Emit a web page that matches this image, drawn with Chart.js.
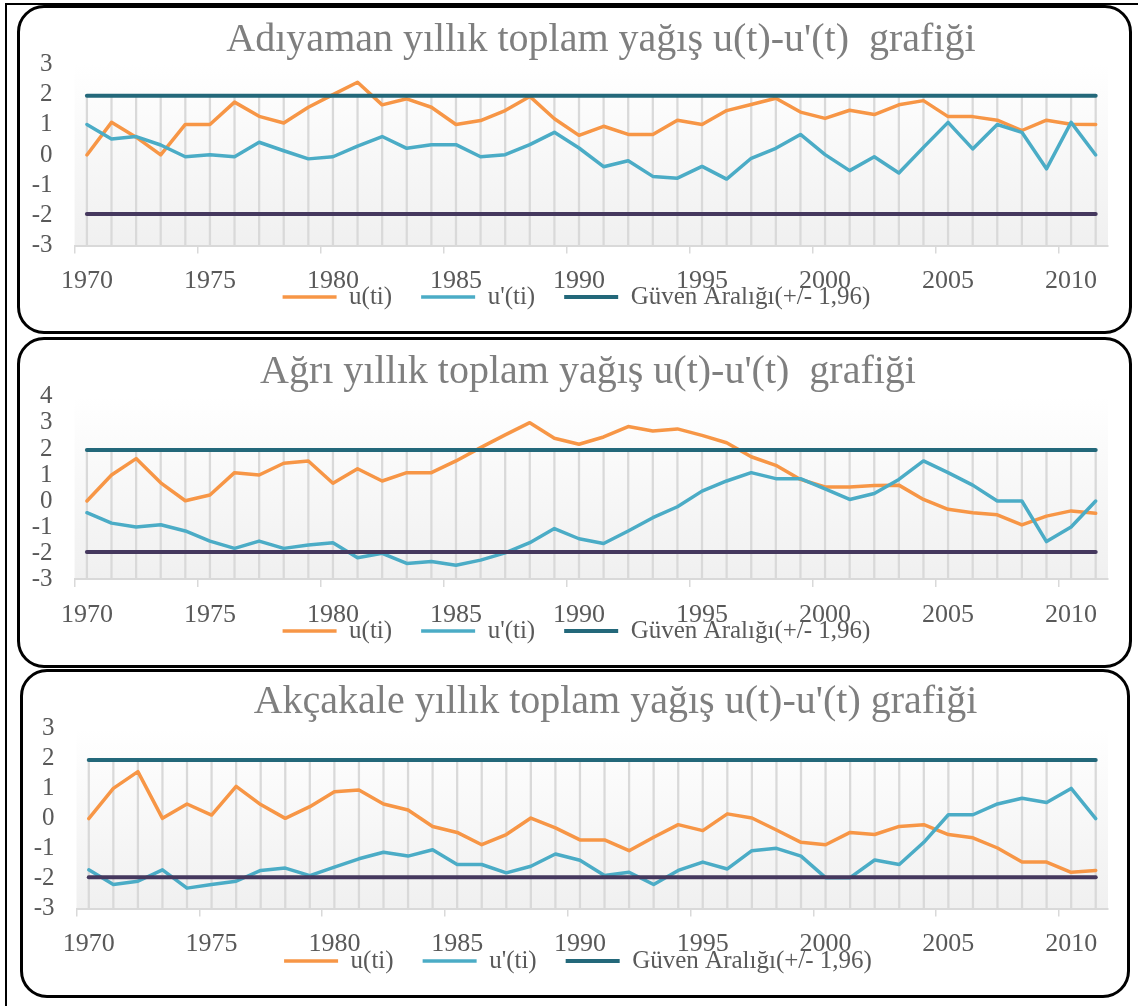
<!DOCTYPE html>
<html>
<head>
<meta charset="utf-8">
<script src="https://cdn.jsdelivr.net/npm/chart.js@4.4.1/dist/chart.umd.min.js"></script>
<style>
  html, body { margin: 0; padding: 0; background: #ffffff; }
  body { width: 1138px; height: 1006px; position: relative; overflow: hidden; }
  .frame { position: absolute; left: 5px; top: 3px; width: 1300px; height: 1200px;
           border-left: 2px solid #000; border-top: 2px solid #000; }
  .panel { position: absolute; box-sizing: border-box; border: 3px solid #000;
           border-radius: 27px; background: #ffffff; }
  canvas { position: absolute; }
</style>
</head>
<body>
<div class="frame"></div>
<div class="panel" style="left:17px;top:5px;width:1115px;height:329px"></div>
<div class="panel" style="left:17px;top:337px;width:1115px;height:331px"></div>
<div class="panel" style="left:20px;top:669px;width:1110px;height:329px"></div>
<canvas id="c1" width="1114" height="326" style="left:18px;top:7px"></canvas>
<canvas id="c2" width="1114" height="328" style="left:18px;top:339px"></canvas>
<canvas id="c3" width="1107" height="326" style="left:21px;top:671px"></canvas>
<script>
// ---------- data ----------
const years = ['1970','1971','1972','1973','1974','1975','1976','1977','1978','1979',
               '1980','1981','1982','1983','1984','1985','1986','1987','1988','1989',
               '1990','1991','1992','1993','1994','1995','1996','1997','1998','1999',
               '2000','2001','2002','2003','2004','2005','2006','2007','2008','2009',
               '2010','2011'];

const adiyamanU  = [0.00, 1.08, 0.59, 0.00, 1.01, 1.01, 1.75, 1.28, 1.06, 1.58,
                    2.00, 2.41, 1.66, 1.86, 1.58, 1.01, 1.14, 1.47, 1.94, 1.20,
                    0.65, 0.95, 0.68, 0.68, 1.15, 1.01, 1.47, 1.67, 1.88, 1.42,
                    1.21, 1.48, 1.34, 1.66, 1.80, 1.27, 1.27, 1.15, 0.81, 1.15,
                    1.02, 1.01];
const adiyamanU2 = [1.01, 0.53, 0.61, 0.33, -0.06, 0.01, -0.06, 0.42, 0.14, -0.13,
                    -0.06, 0.29, 0.61, 0.22, 0.34, 0.34, -0.06, 0.01, 0.34, 0.75,
                    0.23, -0.39, -0.19, -0.71, -0.77, -0.38, -0.80, -0.11, 0.22, 0.68,
                    0.01, -0.52, -0.06, -0.60, 0.25, 1.08, 0.20, 1.01, 0.75, -0.46,
                    1.08, 0.00];

const agriU  = [0.00, 1.00, 1.63, 0.70, 0.01, 0.23, 1.09, 1.00, 1.45, 1.54,
                0.68, 1.24, 0.77, 1.09, 1.09, 1.54, 2.05, 2.54, 3.01, 2.41,
                2.18, 2.46, 2.86, 2.69, 2.77, 2.52, 2.24, 1.70, 1.37, 0.83,
                0.54, 0.54, 0.60, 0.61, 0.06, -0.32, -0.45, -0.53, -0.92, -0.58,
                -0.38, -0.47];
const agriU2 = [-0.45, -0.85, -1.00, -0.91, -1.15, -1.54, -1.82, -1.54, -1.82, -1.69,
                -1.60, -2.18, -2.01, -2.40, -2.32, -2.47, -2.27, -1.99, -1.60, -1.06,
                -1.45, -1.63, -1.15, -0.64, -0.22, 0.38, 0.77, 1.09, 0.86, 0.86,
                0.47, 0.06, 0.29, 0.83, 1.54, 1.09, 0.61, 0.00, 0.00, -1.56,
                -1.00, 0.00];

const akcakaleU  = [0.00, 1.01, 1.57, 0.01, 0.49, 0.12, 1.08, 0.47, 0.01, 0.40,
                    0.90, 0.96, 0.49, 0.29, -0.26, -0.46, -0.87, -0.53, 0.02, -0.31,
                    -0.71, -0.71, -1.07, -0.62, -0.20, -0.40, 0.16, 0.02, -0.38, -0.79,
                    -0.87, -0.46, -0.53, -0.26, -0.20, -0.53, -0.64, -0.98, -1.45, -1.45,
                    -1.79, -1.73];
const akcakaleU2 = [-1.71, -2.20, -2.09, -1.71, -2.32, -2.20, -2.09, -1.73, -1.65, -1.90,
                    -1.62, -1.34, -1.12, -1.25, -1.04, -1.53, -1.53, -1.81, -1.59, -1.18,
                    -1.39, -1.90, -1.79, -2.20, -1.73, -1.45, -1.68, -1.07, -0.99, -1.25,
                    -1.97, -1.97, -1.38, -1.53, -0.79, 0.13, 0.13, 0.49, 0.68, 0.54,
                    1.01, 0.00];

const upperLimit = 1.96;
const lowerLimit = -1.96;

const seriesLabels = ['u(ti)', "u'(ti)", 'Güven Aralığı(+/- 1,96)'];
const chartTitles = [
  "Adıyaman yıllık toplam yağış u(t)-u'(t)  grafiği",
  "Ağrı yıllık toplam yağış u(t)-u'(t)  grafiği",
  "Akçakale yıllık toplam yağış u(t)-u'(t) grafiği"
];
const yRanges = [[-3, 3], [-3, 4], [-3, 3]];

// ---------- styling ----------
const ORANGE = '#F79646', BLUE = '#4BACC6', TEAL = '#23687A', PURPLE = '#45385E';
const GRID = '#d9d9d9', TEXT = '#595959', TITLE = '#7f7f7f';
Chart.defaults.font.family = "'Liberation Serif', 'Times New Roman', serif";

const panelTweaks = {
  id: 'panelTweaks',
  beforeDraw(chart) {
    const { ctx, chartArea: a } = chart;
    const g = ctx.createLinearGradient(0, a.top, 0, a.bottom);
    g.addColorStop(0, '#ffffff');
    g.addColorStop(1, '#f0f0f0');
    ctx.save();
    ctx.fillStyle = g;
    ctx.fillRect(a.left, a.top, a.right - a.left, a.bottom - a.top);
    ctx.restore();
  },
  afterLayout(chart, args, o) {
    const lg = chart.legend;
    if (lg) {
      const cur = lg.top + o.legendPad + o.legendFont / 2;
      const dy = o.legendY - cur;
      lg.top += dy;
      lg.bottom = lg.top + o.legendPad + o.legendFont + 20;
      lg.height = lg.bottom - lg.top;
      lg.left += o.legendDx; lg.right += o.legendDx;
    }
    const t = chart.titleBlock;
    if (t) { t.left += o.titleDx; t.right += o.titleDx; }
  }
};

function makeChart(id, title, u, u2, range, L) {
  const [yMin, yMax] = range;
  const endPts = v => [{ x: years[0], y: v }, { x: years[years.length - 1], y: v }];
  new Chart(document.getElementById(id), {
    type: 'line',
    data: {
      labels: years,
      datasets: [
        { label: seriesLabels[0], data: u, borderColor: ORANGE, backgroundColor: ORANGE,
          borderWidth: 3.5, order: 3 },
        { label: seriesLabels[1], data: u2, borderColor: BLUE, backgroundColor: BLUE,
          borderWidth: 3.5, order: 2 },
        { label: seriesLabels[2], data: endPts(upperLimit), borderColor: TEAL, backgroundColor: TEAL,
          borderWidth: 4, order: 1 },
        { label: 'alt', data: endPts(lowerLimit), borderColor: PURPLE, backgroundColor: PURPLE,
          borderWidth: 4, order: 0 },
        { type: 'bar', label: 'drop', data: years.map(() => [yMin, upperLimit]),
          backgroundColor: GRID, barThickness: 1.6, order: 5 }
      ]
    },
    options: {
      responsive: false,
      animation: false,
      devicePixelRatio: 1,
      events: [],
      elements: {
        point: { radius: 0 },
        line: { tension: 0, borderCapStyle: 'round', borderJoinStyle: 'round', fill: false }
      },
      layout: { padding: { left: 0, right: L.rightPad, top: 0, bottom: 0 } },
      scales: {
        x: {
          type: 'category',
          offset: true,
          grid: {
            offset: true, drawOnChartArea: false, drawTicks: true, tickLength: 8, lineWidth: 1.5,
            color: c => (c.index !== undefined && c.index % 5 === 0) ? GRID : 'rgba(0,0,0,0)'
          },
          border: { display: true, color: GRID, width: 2 },
          ticks: {
            autoSkip: false, maxRotation: 0, minRotation: 0, padding: 12,
            color: TEXT, font: { size: 26 },
            callback: (v, i) => (i % 5 === 0 ? years[i] : '')
          },
          afterFit: s => { s.height = 50; }
        },
        y: {
          min: yMin, max: yMax,
          ticks: { stepSize: 1, autoSkip: false, color: TEXT, font: { size: 25 }, padding: 22 },
          grid: { display: false, drawTicks: false },
          border: { display: false },
          afterFit: s => { s.width = L.chartLeft; }
        }
      },
      plugins: {
        tooltip: { enabled: false },
        title: {
          display: true, text: title, color: TITLE,
          font: { size: 40, weight: 'normal' },
          padding: { top: L.titleTop, bottom: L.titleBottom }
        },
        legend: {
          position: 'bottom',
          maxHeight: L.legendH,
          labels: {
            usePointStyle: true, pointStyle: 'line', pointStyleWidth: 54,
            padding: 29, color: TEXT, font: { size: 25 },
            filter: item => item.datasetIndex < 3,
            sort: (a, b) => a.datasetIndex - b.datasetIndex
          }
        },
        panelTweaks: { legendY: L.legendY, legendDx: L.legendDx, titleDx: L.titleDx,
                       legendPad: 29, legendFont: 25 }
      }
    },
    plugins: [panelTweaks]
  });
}

makeChart('c1', chartTitles[0], adiyamanU, adiyamanU2, yRanges[0],
  { chartLeft: 56.6, rightPad: 24, titleTop: 9.4, titleBottom: 0, legendH: 37.5,
    legendY: 290, legendDx: 13.5, titleDx: 38 });
makeChart('c2', chartTitles[1], agriU, agriU2, yRanges[1],
  { chartLeft: 56.6, rightPad: 24, titleTop: 9.5, titleBottom: 0.4, legendH: 37.9,
    legendY: 292, legendDx: 13.5, titleDx: 25 });
makeChart('c3', chartTitles[2], akcakaleU, akcakaleU2, yRanges[2],
  { chartLeft: 55.5, rightPad: 20, titleTop: 7.5, titleBottom: 2.3, legendH: 38.5,
    legendY: 290, legendDx: 13.5, titleDx: 51 });
</script>
</body>
</html>
